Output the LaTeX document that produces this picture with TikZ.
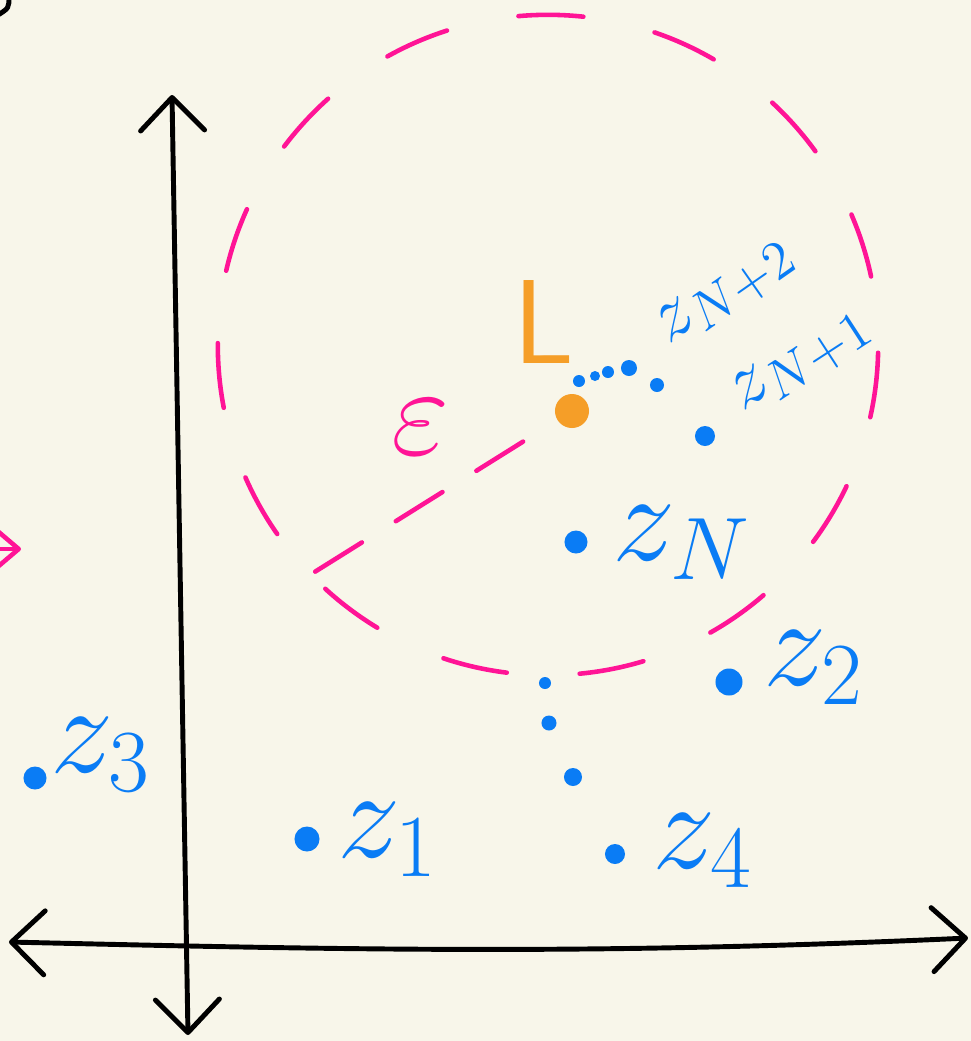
\RequirePackage{fix-cm}
\documentclass[tikz,border=0pt]{standalone}
\usepackage{tikz}
\usetikzlibrary{arrows.meta}

\definecolor{paper}{RGB}{248,246,234}
\definecolor{zblue}{RGB}{10,124,245}
\definecolor{epspink}{RGB}{255,20,150}
\definecolor{lorange}{RGB}{245,158,40}

\begin{document}
\begin{tikzpicture}[x=0.01cm, y=-0.01cm,
    axis/.style={line width=1.4pt, line cap=round, line join=round, >={Straight Barb[length=3.3mm, width=6.4mm, round]}, <->},
    epsline/.style={draw=epspink, line width=1.3pt, line cap=round},
    zdot/.style={circle, fill=zblue, inner sep=0pt, minimum size=2.3mm},
    smalldot/.style={circle, fill=zblue, inner sep=0pt, minimum size=1.2mm},
    zlabel/.style={text=zblue, inner sep=0pt, anchor=base west, font=\fontsize{36}{40}\selectfont},
    zlabelsmall/.style={zlabel, font=\fontsize{22}{26}\selectfont}]
  \useasboundingbox (0,0) rectangle (971,1041);
  \fill[paper] (0,0) rectangle (971,1041);
  \clip (0,0) rectangle (971,1041);

  % axes
  \coordinate (ytop) at (172,95);
  \coordinate (ybot) at (188,1035);
  \coordinate (xleft) at (9,942);
  \coordinate (xright) at (968,938);
  \draw[axis] (ybot) -- (ytop);
  \draw[axis] (xleft) .. controls (350,950) and (600,955) .. (xright);

  % marks cut off at the edges
  \draw[line width=1.4pt, line cap=round] (9,-4) .. controls (9,8) .. (-2,15);
  \coordinate (ptail) at (-30,549);
  \coordinate (ptip) at (21,549);
  \draw[epsline, -{Straight Barb[length=2mm, width=3.4mm, round]}] (ptail) -- (ptip);

  % epsilon ball round L
  \coordinate (ball) at (548,345);
  \draw[epsline, dash pattern=on 0.65cm off 0.73cm, dash phase=0.69cm] (ball) circle[radius=3.3cm];
  \node[circle, fill=lorange, inner sep=0pt, minimum size=3.4mm] (Ldot) at (572,411) {};
  \node[text=lorange, font=\fontsize{34}{38}\selectfont\sffamily] (Llabel) at (544,322) {L};
  \coordinate (epsend) at (305,578);
  \draw[epsline, dash pattern=on 0.55cm off 0.4cm, dash phase=0.55cm] (Ldot) -- (epsend);
  \node[text=epspink, font=\fontsize{36}{40}\selectfont] (epslabel) at (421,427) {$\varepsilon$};

  % the points
  \node[smalldot] (d1) at (579,381) {};
  \node[smalldot, minimum size=1mm] (d2) at (595,376) {};
  \node[smalldot] (d3) at (608,372) {};
  \node[smalldot, minimum size=1.6mm] (d4) at (629,368) {};
  \node[smalldot, minimum size=1.4mm] (zNp2) at (657,385) {};
  \node[zdot, minimum size=2mm] (zNp1) at (705,436) {};
  \node[zdot] (zN) at (576,542) {};
  \node[zdot, minimum size=2.7mm] (z2) at (729,682) {};
  \node[zdot] (z3) at (35,778) {};
  \node[zdot, minimum size=2.5mm] (z1) at (307,839) {};
  \node[zdot, minimum size=2mm] (z4) at (615,854) {};
  \node[smalldot] (v1) at (545,683) {};
  \node[smalldot, minimum size=1.5mm] (v2) at (549,723) {};
  \node[smalldot, minimum size=1.8mm] (v3) at (573,777) {};

  % labels
  \node[zlabelsmall, rotate=35] (lNp2) at (668,345) {$z_{N+2}$};
  \node[zlabelsmall, rotate=33] (lNp1) at (742,412) {$z_{N+1}$};
  \node[zlabel] (lN) at (612,560) {$z_N$};
  \node[zlabel] (l2) at (763,685) {$z_2$};
  \node[zlabel] (l3) at (50,772) {$z_3$};
  \node[zlabel] (l1) at (337,857) {$z_1$};
  \node[zlabel] (l4) at (652,868) {$z_4$};
\end{tikzpicture}
\end{document}
